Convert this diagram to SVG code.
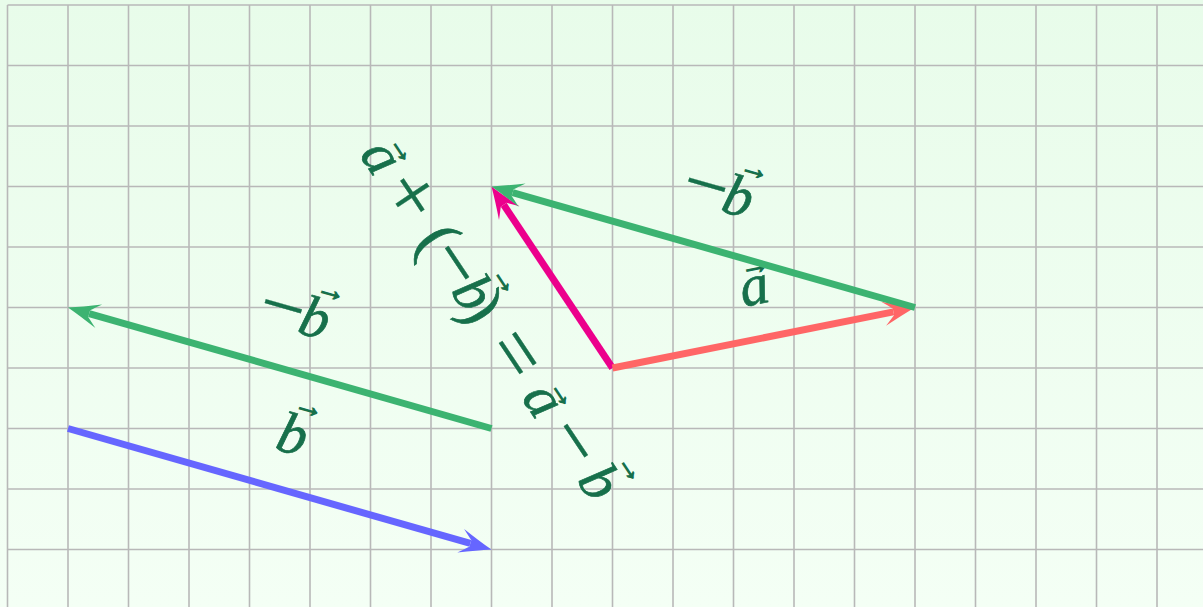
<svg xmlns="http://www.w3.org/2000/svg" width="1203" height="607" viewBox="0 0 1203 607">
<style>
.grid line{stroke:#b8b8b8;stroke-width:1.6}
.lbl{fill:#17704b;stroke:#17704b;stroke-width:0.7;font-family:"Liberation Serif","Times New Roman",serif;font-size:58px;text-anchor:middle}
.op{font-size:80px;stroke-width:0.4}
.par{font-size:64px}
.it{font-style:italic}
.acc{fill:#17704b;stroke:#17704b;stroke-width:1.3;font-family:"Liberation Sans",Arial,sans-serif;font-size:30px;text-anchor:middle}
.vec{fill:none;stroke-width:7;stroke-linecap:butt}
</style>
<defs>
<linearGradient id="bg" x1="0" y1="0" x2="0" y2="1">
<stop offset="0" stop-color="#e8fcea"/>
<stop offset="1" stop-color="#f4fff5"/>
</linearGradient>
<marker id="mBlue" markerUnits="userSpaceOnUse" orient="auto" refX="0" refY="0" markerWidth="40" markerHeight="30" overflow="visible">
<path d="M22 0 Q8 -4.8 -10 -12.3 Q-3.5 -6.5 0 -3.5 L0 3.5 Q-3.5 6.5 -10 12.3 Q8 4.8 22 0 Z" fill="#6666ff"/>
</marker>
<marker id="mGreen" markerUnits="userSpaceOnUse" orient="auto" refX="0" refY="0" markerWidth="40" markerHeight="30" overflow="visible">
<path d="M22 0 Q8 -4.8 -10 -12.3 Q-3.5 -6.5 0 -3.5 L0 3.5 Q-3.5 6.5 -10 12.3 Q8 4.8 22 0 Z" fill="#3cb371"/>
</marker>
<marker id="mRed" markerUnits="userSpaceOnUse" orient="auto" refX="0" refY="0" markerWidth="40" markerHeight="30" overflow="visible">
<path d="M22 0 Q8 -4.8 -10 -12.3 Q-3.5 -6.5 0 -3.5 L0 3.5 Q-3.5 6.5 -10 12.3 Q8 4.8 22 0 Z" fill="#ff6666"/>
</marker>
<marker id="mMag" markerUnits="userSpaceOnUse" orient="auto" refX="0" refY="0" markerWidth="40" markerHeight="30" overflow="visible">
<path d="M22 0 Q8 -4.8 -10 -12.3 Q-3.5 -6.5 0 -3.5 L0 3.5 Q-3.5 6.5 -10 12.3 Q8 4.8 22 0 Z" fill="#ec008c"/>
</marker>
</defs>
<rect x="0" y="0" width="1203" height="607" fill="url(#bg)"/>
<g class="grid">
<line x1="7.5" y1="5" x2="7.5" y2="607"/>
<line x1="68" y1="5" x2="68" y2="607"/>
<line x1="128.5" y1="5" x2="128.5" y2="607"/>
<line x1="189" y1="5" x2="189" y2="607"/>
<line x1="249.5" y1="5" x2="249.5" y2="607"/>
<line x1="310" y1="5" x2="310" y2="607"/>
<line x1="370.5" y1="5" x2="370.5" y2="607"/>
<line x1="431" y1="5" x2="431" y2="607"/>
<line x1="491.5" y1="5" x2="491.5" y2="607"/>
<line x1="552" y1="5" x2="552" y2="607"/>
<line x1="612.5" y1="5" x2="612.5" y2="607"/>
<line x1="673" y1="5" x2="673" y2="607"/>
<line x1="733.5" y1="5" x2="733.5" y2="607"/>
<line x1="794" y1="5" x2="794" y2="607"/>
<line x1="854.5" y1="5" x2="854.5" y2="607"/>
<line x1="915" y1="5" x2="915" y2="607"/>
<line x1="975.5" y1="5" x2="975.5" y2="607"/>
<line x1="1036" y1="5" x2="1036" y2="607"/>
<line x1="1096.5" y1="5" x2="1096.5" y2="607"/>
<line x1="1157" y1="5" x2="1157" y2="607"/>
<line x1="7.5" y1="5" x2="1203" y2="5"/>
<line x1="7.5" y1="65.5" x2="1203" y2="65.5"/>
<line x1="7.5" y1="126" x2="1203" y2="126"/>
<line x1="7.5" y1="186.5" x2="1203" y2="186.5"/>
<line x1="7.5" y1="247" x2="1203" y2="247"/>
<line x1="7.5" y1="307.5" x2="1203" y2="307.5"/>
<line x1="7.5" y1="368" x2="1203" y2="368"/>
<line x1="7.5" y1="428.5" x2="1203" y2="428.5"/>
<line x1="7.5" y1="489" x2="1203" y2="489"/>
<line x1="7.5" y1="549.5" x2="1203" y2="549.5"/>
</g>
<g id="labels">
<g id="label-b" transform="translate(293.5,432.5) rotate(15.96)">
<text class="lbl it" x="0" y="21">b</text>
<text class="acc" x="8" y="-20">→</text>
</g>
<g id="label-neg-b-left" transform="translate(281.5,312.5) rotate(15.96)">
<text class="lbl op" x="0" y="20">−</text>
<text class="lbl it" x="34" y="15">b</text>
<text class="acc" x="42" y="-26">→</text>
</g>
<g id="label-neg-b-top" transform="translate(705,191) rotate(15.96)">
<text class="lbl op" x="0" y="20">−</text>
<text class="lbl it" x="34" y="15">b</text>
<text class="acc" x="42" y="-26">→</text>
</g>
<g id="label-a" transform="translate(755,291.5) rotate(-11.31)">
<text class="lbl it" x="0" y="13">a</text>
<text class="acc" x="5" y="-17">→</text>
</g>
<g id="label-sum" transform="translate(378,159) rotate(56.31)">
<text class="lbl it" x="0" y="13.5">a</text>
<text class="acc" x="6" y="-17">→</text>
<text class="lbl op" x="49" y="18">+</text>
<text class="lbl par" x="100" y="15">(</text>
<text class="lbl op" x="130" y="18">−</text>
<text class="lbl it" x="164.5" y="13.5">b</text>
<text class="acc" x="172" y="-30">→</text>
<text class="lbl par" x="182" y="15">)</text>
<text class="lbl op" x="239" y="18">=</text>
<text class="lbl it" x="292" y="13.5">a</text>
<text class="acc" x="298" y="-15">→</text>
<text class="lbl op" x="344" y="18">−</text>
<text class="lbl it" x="392" y="13.5">b</text>
<text class="acc" x="398" y="-30">→</text>
</g>
</g>
<g id="connectors">
<line id="vec-b" class="vec" x1="68" y1="428.5" x2="470.35" y2="543.46" stroke="#6666ff" marker-end="url(#mBlue)"/>
<line id="vec-neg-b-left" class="vec" x1="491.5" y1="428.5" x2="89.15" y2="313.54" stroke="#3cb371" marker-end="url(#mGreen)"/>
<line id="vec-diff" class="vec" x1="612.5" y1="368" x2="503.7" y2="204.8" stroke="#ec008c" marker-end="url(#mMag)"/>
<line id="vec-a" class="vec" x1="612.5" y1="368" x2="893.43" y2="311.81" stroke="#ff6666" marker-end="url(#mRed)"/>
<line id="vec-neg-b-top" class="vec" x1="915" y1="307.5" x2="512.65" y2="192.54" stroke="#3cb371" marker-end="url(#mGreen)"/>
</g>
</svg>
